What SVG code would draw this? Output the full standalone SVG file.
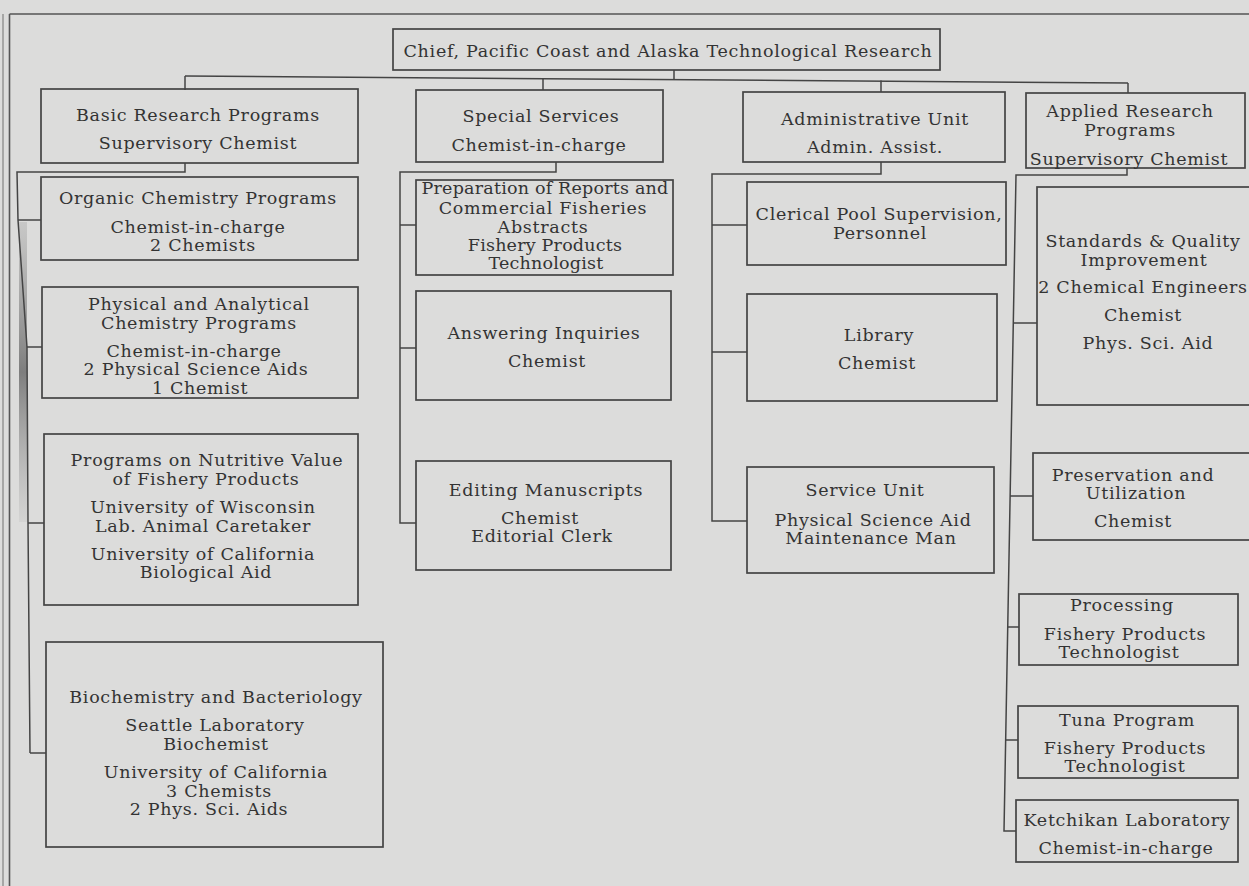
<svg xmlns="http://www.w3.org/2000/svg" width="1249" height="886" viewBox="0 0 1249 886">
<defs>
<style>
.bg{fill:#dcdcdb}
.box{fill:none;stroke:#444;stroke-width:1.7}
.ln{fill:none;stroke:#444;stroke-width:1.5}
.fr{fill:none;stroke:#555;stroke-width:1.6}
text{font-family:"DejaVu Serif","Liberation Serif",serif;font-size:17.5px;letter-spacing:0.7px;fill:#333;text-anchor:middle;dominant-baseline:central}
.tight{letter-spacing:0.2px}
</style>
<linearGradient id="band" x1="0" y1="0" x2="0" y2="1">
<stop offset="0" stop-color="#777" stop-opacity="0.2"/>
<stop offset="0.5" stop-color="#555" stop-opacity="0.7"/>
<stop offset="1" stop-color="#888" stop-opacity="0.1"/>
</linearGradient>
</defs>
<rect class="bg" x="0" y="0" width="1249" height="886"/>
<rect x="19" y="222" width="8" height="300" fill="url(#band)"/>
<g id="frame">
<line class="fr" x1="3" y1="14" x2="3" y2="886" stroke-opacity="0.5"/>
<line class="fr" x1="9.5" y1="14" x2="9.5" y2="886"/>
<line class="fr" x1="9.5" y1="14" x2="1249" y2="14"/>
</g>
<g id="connectors">
<polyline class="ln" points="185,76 1128,83"/>
<line class="ln" x1="674" y1="70" x2="674" y2="79.5"/>
<line class="ln" x1="185" y1="76" x2="185" y2="90"/>
<line class="ln" x1="543" y1="78.5" x2="543" y2="90"/>
<line class="ln" x1="881" y1="80.5" x2="881" y2="92"/>
<line class="ln" x1="1128" y1="83" x2="1128" y2="93"/>
<polyline class="ln" points="185,163 185,172 17,172 18,220 27,347 28,523 30,753"/>
<line class="ln" x1="18" y1="220" x2="41" y2="220"/>
<line class="ln" x1="27" y1="347" x2="42" y2="347"/>
<line class="ln" x1="28" y1="523" x2="44" y2="523"/>
<line class="ln" x1="30" y1="753" x2="46" y2="753"/>
<polyline class="ln" points="556,162 556,172 400,172 400,523 416,523"/>
<line class="ln" x1="400" y1="225" x2="416" y2="225"/>
<line class="ln" x1="400" y1="348" x2="416" y2="348"/>
<polyline class="ln" points="881,162 881,174 712,174 712,521 747,521"/>
<line class="ln" x1="712" y1="225" x2="747" y2="225"/>
<line class="ln" x1="712" y1="352" x2="747" y2="352"/>
<polyline class="ln" points="1127,168 1127,175 1016,175 1004,831 1016,831"/>
<line class="ln" x1="1013" y1="323" x2="1037" y2="323"/>
<line class="ln" x1="1010" y1="496" x2="1033" y2="496"/>
<line class="ln" x1="1008" y1="627" x2="1019" y2="627"/>
<line class="ln" x1="1006" y1="740" x2="1018" y2="740"/>
</g>
<g id="chief">
<rect class="box" x="393" y="29" width="547" height="41"/>
<text x="668" y="51">Chief, Pacific Coast and Alaska Technological Research</text>
</g>
<g id="basic">
<rect class="box" x="41" y="89" width="317" height="74"/>
<text x="198" y="115">Basic Research Programs</text>
<text x="198" y="143">Supervisory Chemist</text>
</g>
<g id="organic">
<rect class="box" x="41" y="177" width="317" height="83"/>
<text x="198" y="198">Organic Chemistry Programs</text>
<text x="198" y="227">Chemist-in-charge</text>
<text x="203" y="245">2 Chemists</text>
</g>
<g id="physical">
<rect class="box" x="42" y="287" width="316" height="111"/>
<text x="199" y="304">Physical and Analytical</text>
<text x="199" y="323">Chemistry Programs</text>
<text x="194" y="351">Chemist-in-charge</text>
<text x="196" y="369">2 Physical Science Aids</text>
<text x="200" y="388">1 Chemist</text>
</g>
<g id="nutritive">
<rect class="box" x="44" y="434" width="314" height="171"/>
<text x="207" y="460">Programs on Nutritive Value</text>
<text x="206" y="479">of Fishery Products</text>
<text x="203" y="507">University of Wisconsin</text>
<text x="203" y="526">Lab. Animal Caretaker</text>
<text x="203" y="554">University of California</text>
<text x="206" y="572">Biological Aid</text>
</g>
<g id="biochem">
<rect class="box" x="46" y="642" width="337" height="205"/>
<text x="216" y="697">Biochemistry and Bacteriology</text>
<text x="215" y="725">Seattle Laboratory</text>
<text x="216" y="744">Biochemist</text>
<text x="216" y="772">University of California</text>
<text x="219" y="791">3 Chemists</text>
<text x="209" y="809">2 Phys. Sci. Aids</text>
</g>
<g id="special">
<rect class="box" x="416" y="90" width="247" height="72"/>
<text x="541" y="116">Special Services</text>
<text x="539" y="145">Chemist-in-charge</text>
</g>
<g id="reports">
<rect class="box" x="416" y="180" width="257" height="95"/>
<text class="tight" x="545" y="188">Preparation of Reports and</text>
<text x="543" y="208">Commercial Fisheries</text>
<text x="543" y="227">Abstracts</text>
<text class="tight" x="545" y="245">Fishery Products</text>
<text class="tight" x="546" y="263">Technologist</text>
</g>
<g id="inquiries">
<rect class="box" x="416" y="291" width="255" height="109"/>
<text x="544" y="333">Answering Inquiries</text>
<text x="547" y="361">Chemist</text>
</g>
<g id="editing">
<rect class="box" x="416" y="461" width="255" height="109"/>
<text x="546" y="490">Editing Manuscripts</text>
<text x="540" y="518">Chemist</text>
<text x="542" y="536">Editorial Clerk</text>
</g>
<g id="admin">
<rect class="box" x="743" y="92" width="262" height="70"/>
<text x="875" y="119">Administrative Unit</text>
<text x="875" y="147">Admin. Assist.</text>
</g>
<g id="clerical">
<rect class="box" x="747" y="182" width="259" height="83"/>
<text x="879" y="214">Clerical Pool Supervision,</text>
<text x="880" y="233">Personnel</text>
</g>
<g id="library">
<rect class="box" x="747" y="294" width="250" height="107"/>
<text x="879" y="335">Library</text>
<text x="877" y="363">Chemist</text>
</g>
<g id="service">
<rect class="box" x="747" y="467" width="247" height="106"/>
<text x="865" y="490">Service Unit</text>
<text x="873" y="520">Physical Science Aid</text>
<text x="871" y="538">Maintenance Man</text>
</g>
<g id="applied">
<rect class="box" x="1026" y="93" width="219" height="75"/>
<text x="1130" y="111">Applied Research</text>
<text x="1130" y="130">Programs</text>
<text x="1129" y="159">Supervisory Chemist</text>
</g>
<g id="standards">
<rect class="box" x="1037" y="187" width="216" height="218"/>
<text x="1143" y="241">Standards &amp; Quality</text>
<text x="1144" y="260">Improvement</text>
<text x="1143" y="287">2 Chemical Engineers</text>
<text x="1143" y="315">Chemist</text>
<text x="1148" y="343">Phys. Sci. Aid</text>
</g>
<g id="preservation">
<rect class="box" x="1033" y="453" width="220" height="87"/>
<text x="1133" y="475">Preservation and</text>
<text x="1136" y="493">Utilization</text>
<text x="1133" y="521">Chemist</text>
</g>
<g id="processing">
<rect class="box" x="1019" y="594" width="219" height="71"/>
<text x="1122" y="605">Processing</text>
<text x="1125" y="634">Fishery Products</text>
<text x="1119" y="652">Technologist</text>
</g>
<g id="tuna">
<rect class="box" x="1018" y="706" width="220" height="72"/>
<text x="1127" y="720">Tuna Program</text>
<text x="1125" y="748">Fishery Products</text>
<text x="1125" y="766">Technologist</text>
</g>
<g id="ketchikan">
<rect class="box" x="1016" y="800" width="222" height="62"/>
<text x="1127" y="820">Ketchikan Laboratory</text>
<text x="1126" y="848">Chemist-in-charge</text>
</g>
</svg>
